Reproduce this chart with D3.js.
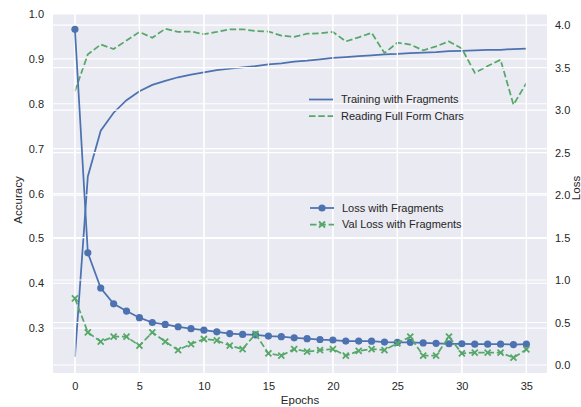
<!DOCTYPE html>
<html>
<head>
<meta charset="utf-8">
<title>Accuracy / Loss</title>
<style>
  body { margin: 0; background: #fff; }
  text { font-family: "Liberation Sans", Arial, sans-serif; fill: #262626; }
</style>
</head>
<body>
<svg id="chart" width="581" height="407"></svg>
<script src="https://cdnjs.cloudflare.com/ajax/libs/d3/7.8.5/d3.min.js"></script>
<script>
const epochs = d3.range(0, 36);
const trainAcc = [0.236, 0.638, 0.740, 0.780, 0.808, 0.828, 0.842, 0.851, 0.859, 0.865,
  0.870, 0.875, 0.878, 0.881, 0.884, 0.888, 0.890, 0.894, 0.896, 0.899,
  0.902, 0.904, 0.906, 0.908, 0.910, 0.911, 0.913, 0.914, 0.915, 0.917,
  0.918, 0.919, 0.920, 0.920, 0.922, 0.923];
const readingAcc = [0.828, 0.910, 0.932, 0.922, 0.941, 0.960, 0.947, 0.967, 0.960, 0.961,
  0.955, 0.960, 0.966, 0.966, 0.962, 0.961, 0.952, 0.949, 0.956, 0.957,
  0.960, 0.939, 0.948, 0.958, 0.913, 0.936, 0.932, 0.919, 0.928, 0.939,
  0.923, 0.869, 0.884, 0.898, 0.798, 0.846];
const loss = [3.95, 1.32, 0.906, 0.72, 0.635, 0.557, 0.50, 0.478, 0.45, 0.427,
  0.41, 0.39, 0.37, 0.36, 0.355, 0.34, 0.333, 0.32, 0.31, 0.30,
  0.294, 0.282, 0.282, 0.28, 0.27, 0.267, 0.267, 0.26, 0.255, 0.25,
  0.25, 0.245, 0.245, 0.245, 0.24, 0.245];
const valLoss = [0.785, 0.385, 0.275, 0.333, 0.333, 0.227, 0.385, 0.275, 0.176, 0.247,
  0.306, 0.29, 0.227, 0.188, 0.365, 0.137, 0.11, 0.188, 0.157, 0.176,
  0.188, 0.11, 0.165, 0.188, 0.176, 0.255, 0.333, 0.11, 0.11, 0.333,
  0.137, 0.145, 0.145, 0.145, 0.086, 0.184];
const xTicks = [0, 5, 10, 15, 20, 25, 30, 35];
const accTicks = [0.3, 0.4, 0.5, 0.6, 0.7, 0.8, 0.9, 1.0];
const lossTicks = [0.0, 0.5, 1.0, 1.5, 2.0, 2.5, 3.0, 3.5, 4.0];

const blue = "#4C72B0", green = "#55A868";
const margin = {left: 53, right: 34, top: 14, bottom: 34};
const svg = d3.select("#chart");
const W = +svg.attr("width"), H = +svg.attr("height");
const iw = W - margin.left - margin.right, ih = H - margin.top - margin.bottom;

const x = d3.scaleLinear().domain([-1.7, 36.6]).range([0, iw]);
const yL = d3.scaleLinear().domain([0.2, 1.0]).range([ih, 0]);
const yR = d3.scaleLinear().domain([-0.094, 4.13]).range([ih, 0]);

const g = svg.append("g").attr("transform", `translate(${margin.left},${margin.top})`);
g.append("rect").attr("width", iw).attr("height", ih).attr("fill", "#EAEAF2");

// grid of the accuracy axis
const gridL = g.append("g");
gridL.selectAll("line.v").data(xTicks).join("line")
  .attr("x1", d => x(d)).attr("x2", d => x(d)).attr("y1", 0).attr("y2", ih);
gridL.selectAll("line.h").data(accTicks).join("line")
  .attr("x1", 0).attr("x2", iw).attr("y1", d => yL(d)).attr("y2", d => yL(d));
gridL.selectAll("line").attr("stroke", "#fff").attr("stroke-width", 1.2);

const lineL = d3.line().x((d, i) => x(epochs[i])).y(d => yL(d));
const lineR = d3.line().x((d, i) => x(epochs[i])).y(d => yR(d));

g.append("path").attr("d", lineL(trainAcc)).attr("fill", "none")
  .attr("stroke", blue).attr("stroke-width", 1.75);
g.append("path").attr("d", lineL(readingAcc)).attr("fill", "none")
  .attr("stroke", green).attr("stroke-width", 1.75).attr("stroke-dasharray", "6.5,2.8");

// loss axis grid, drawn over the accuracy lines (twin axes)
const gridR = g.append("g");
gridR.selectAll("line").data(lossTicks).join("line")
  .attr("x1", 0).attr("x2", iw).attr("y1", d => yR(d)).attr("y2", d => yR(d))
  .attr("stroke", "#fff").attr("stroke-width", 1.2);
gridR.selectAll("line.v").data(xTicks).join("line")
  .attr("x1", d => x(d)).attr("x2", d => x(d)).attr("y1", 0).attr("y2", ih)
  .attr("stroke", "#fff").attr("stroke-width", 1.2);

g.append("path").attr("d", lineR(loss)).attr("fill", "none")
  .attr("stroke", blue).attr("stroke-width", 1.75);
g.selectAll("circle.loss").data(loss).join("circle")
  .attr("cx", (d, i) => x(epochs[i])).attr("cy", d => yR(d)).attr("r", 3.6).attr("fill", blue);

g.append("path").attr("d", lineR(valLoss)).attr("fill", "none")
  .attr("stroke", green).attr("stroke-width", 1.75).attr("stroke-dasharray", "6.5,2.8");
const xMark = (cx, cy, s) => `M${cx - s},${cy - s}L${cx + s},${cy + s}M${cx - s},${cy + s}L${cx + s},${cy - s}`;
g.selectAll("path.vx").data(valLoss).join("path")
  .attr("d", (d, i) => xMark(x(epochs[i]), yR(d), 3))
  .attr("stroke", green).attr("stroke-width", 1.8).attr("fill", "none");

// axes
const axisX = d3.axisBottom(x).tickValues(xTicks).tickSize(0).tickPadding(9);
const axisL = d3.axisLeft(yL).tickValues(accTicks).tickSize(0).tickPadding(9).tickFormat(d3.format(".1f"));
const axisR = d3.axisRight(yR).tickValues(lossTicks).tickSize(0).tickPadding(8).tickFormat(d3.format(".1f"));
[g.append("g").attr("transform", `translate(0,${ih})`).call(axisX),
 g.append("g").call(axisL),
 g.append("g").attr("transform", `translate(${iw},0)`).call(axisR)]
  .forEach(a => {
    a.select(".domain").remove();
    a.selectAll("text").attr("font-size", 11).attr("fill", "#333")
      .attr("font-family", "Liberation Sans, Arial, sans-serif");
  });

svg.append("text").attr("x", margin.left + iw / 2).attr("y", 404)
  .attr("text-anchor", "middle").attr("font-size", 11.5).text("Epochs");
svg.append("text").attr("transform", "translate(22,200) rotate(-90)")
  .attr("text-anchor", "middle").attr("font-size", 11.5).text("Accuracy");
svg.append("text").attr("transform", "translate(580,188) rotate(-90)")
  .attr("text-anchor", "middle").attr("font-size", 11.5).text("Loss");

// legends
const leg1 = [{name: "Training with Fragments", color: blue, dash: null, marker: null},
              {name: "Reading Full Form Chars", color: green, dash: "6.5,2.8", marker: null}];
const leg2 = [{name: "Loss with Fragments", color: blue, dash: null, marker: "o"},
              {name: "Val Loss with Fragments", color: green, dash: "6.5,2.8", marker: "x"}];
function legend(items, lx, ly) {
  const lg = svg.append("g").attr("transform", `translate(${lx},${ly})`);
  items.forEach((it, i) => {
    const r = lg.append("g").attr("transform", `translate(0,${i * 16.5})`);
    r.append("line").attr("x1", 0).attr("x2", 24).attr("stroke", it.color)
      .attr("stroke-width", 1.75).attr("stroke-dasharray", it.dash);
    if (it.marker === "o") r.append("circle").attr("cx", 12).attr("r", 3.6).attr("fill", it.color);
    if (it.marker === "x") r.append("path").attr("d", xMark(12, 0, 3)).attr("stroke", it.color).attr("stroke-width", 1.8);
    r.append("text").attr("x", 32).attr("dy", "0.35em").attr("font-size", 11).text(it.name);
  });
}
legend(leg1, 309, 99.5);
legend(leg2, 310, 208);
</script>
</body>
</html>
